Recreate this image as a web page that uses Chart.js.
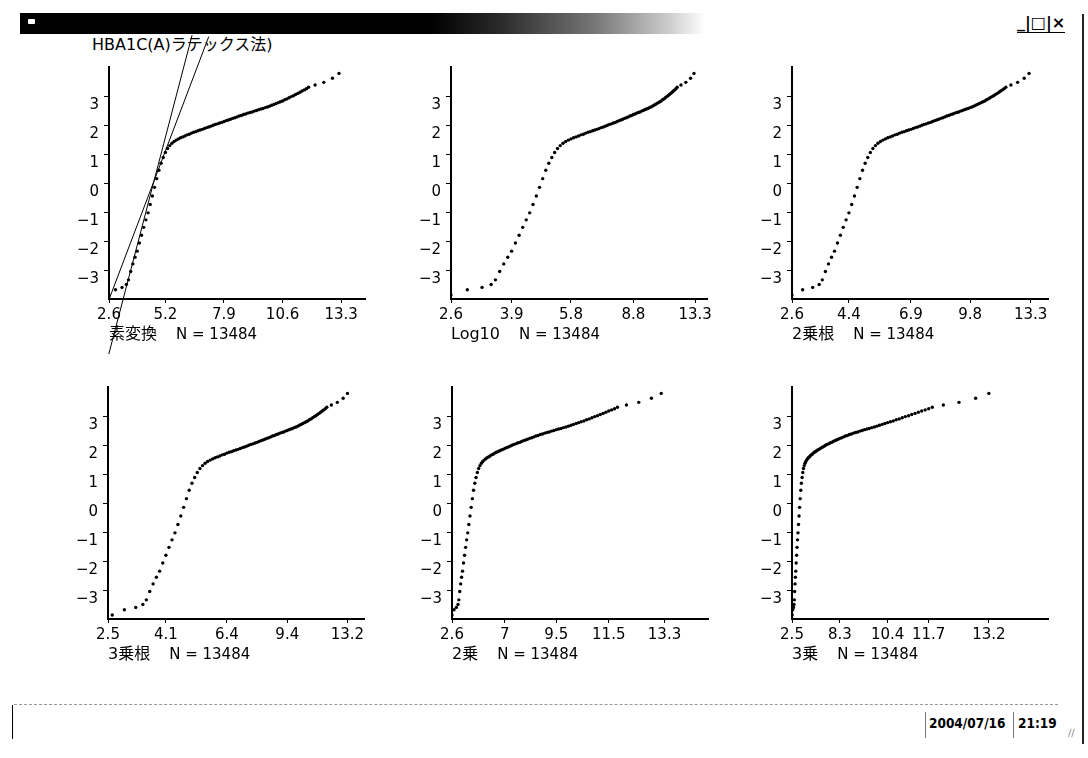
<!DOCTYPE html>
<html>
<head>
<meta charset="utf-8">
<script src="https://cdn.jsdelivr.net/npm/chart.js@4/dist/chart.umd.min.js"></script>
<style>
  body { margin: 0; width: 1088px; height: 758px; overflow: hidden; position: relative; background: #fff; color: #000;
         font-family: "DejaVu Sans", "Noto Sans CJK JP", sans-serif; }
  .abs { position: absolute; }
  #titlebar { left: 20px; top: 13px; width: 685px; height: 21px;
              background: linear-gradient(to right, #000 0%, #000 60%, #2a2a2a 70%, #777 84%, #cfcfcf 95%, #fff 100%); }
  #icon { left: 28px; top: 19px; width: 7px; height: 5px; background: #fff; border-radius: 1px; }
  #buttons { left: 1017px; top: 14px; font: bold 16px "DejaVu Sans"; border-bottom: 1px solid #000; line-height: 18px; }
  #rborder { left: 1082px; top: 14px; width: 2px; height: 730px; background: #222; }
  #title { left: 92px; top: 37px; font-size: 16px; line-height: 16px; white-space: nowrap; }
  .cap { font-size: 15px; line-height: 16px; white-space: nowrap; }
  .cap .nm { font-size: 16px; margin-right: 19px; }
  #status { left: 14px; top: 704px; width: 1044px; height: 0; border-top: 1px dashed #999; }
  #sleft { left: 12px; top: 705px; width: 1px; height: 34px; background: #000; }
  .sep { top: 712px; width: 1px; height: 26px; background: #777; }
  .stat { top: 716px; font: bold 13.5px "DejaVu Sans Condensed", "DejaVu Sans"; line-height: 14px; }
  #grip { left: 1068px; top: 727px; font-size: 10px; color: #888; }
</style>
</head>
<body>
<div id="titlebar" class="abs"></div>
<div id="icon" class="abs"></div>
<div id="buttons" class="abs">_|□|×</div>
<div id="rborder" class="abs"></div>
<div id="title" class="abs">HBA1C(A)ラテックス法)</div>
<div id="status" class="abs"></div>
<div id="sleft" class="abs"></div>
<div class="abs sep" style="left:925px"></div>
<div class="abs stat" style="left:929px">2004/07/16</div>
<div class="abs sep" style="left:1013px"></div>
<div class="abs stat" style="left:1018px">21:19</div>
<div id="grip" class="abs">∕∕</div>

<script>
// HbA1c values (%) and the normal score at each distinct value
const hba1c = [2.6, 2.9, 3.2, 3.4, 3.5, 3.6, 3.7, 3.8, 3.9, 4.0,
  4.1, 4.2, 4.3, 4.4, 4.5, 4.6, 4.7, 4.8, 4.9, 5.0,
  5.1, 5.2, 5.3, 5.4, 5.5, 5.6, 5.7, 5.8, 5.9, 6.0,
  6.1, 6.2, 6.3, 6.4, 6.5, 6.6, 6.7, 6.8, 6.9, 7.0,
  7.1, 7.2, 7.3, 7.4, 7.5, 7.6, 7.7, 7.8, 7.9, 8.0,
  8.1, 8.2, 8.3, 8.4, 8.5, 8.6, 8.7, 8.8, 8.9, 9.0,
  9.1, 9.2, 9.3, 9.4, 9.5, 9.6, 9.7, 9.8, 9.9, 10.0,
  10.1, 10.2, 10.3, 10.4, 10.5, 10.6, 10.7, 10.8, 10.9, 11.0,
  11.1, 11.2, 11.3, 11.4, 11.5, 11.6, 11.7, 11.8, 12.1, 12.5, 12.9, 13.2];
const zScore = [-3.86, -3.68, -3.60, -3.50, -3.34, -3.05, -2.79, -2.56, -2.35, -2.07,
  -1.80, -1.53, -1.27, -1.03, -0.74, -0.45, -0.15, 0.15, 0.44, 0.68,
  0.88, 1.05, 1.19, 1.29, 1.37, 1.43, 1.48, 1.52, 1.56, 1.59,
  1.62, 1.66, 1.68, 1.72, 1.75, 1.77, 1.80, 1.83, 1.85, 1.88,
  1.91, 1.93, 1.96, 1.99, 2.02, 2.04, 2.07, 2.09, 2.12, 2.15,
  2.17, 2.20, 2.23, 2.25, 2.28, 2.31, 2.33, 2.36, 2.38, 2.41,
  2.43, 2.45, 2.48, 2.50, 2.53, 2.55, 2.57, 2.60, 2.62, 2.65,
  2.68, 2.71, 2.74, 2.77, 2.80, 2.83, 2.87, 2.90, 2.94, 2.98,
  3.01, 3.05, 3.09, 3.13, 3.17, 3.21, 3.25, 3.30, 3.38, 3.47, 3.61, 3.78];

// reference lines on the untransformed plot: [HbA1c, z] end points
const refLineA = [[2.59, -5.9], [6.43, 5.1]];
const refLineB = [[2.61, -4.0], [7.2, 5.05]];

const yTickValues = [3, 2, 1, 0, -1, -2, -3];
const yTickLabels = ['3', '2', '1', '0', '−1', '−2', '−3'];

const panelNames = ['素変換', 'Log10', '2乗根', '3乗根', '2乗', '3乗'];
const ticksRaw = ['2.6', '5.2', '7.9', '10.6', '13.3'];
const ticksLog = ['2.6', '3.9', '5.8', '8.8', '13.3'];
const ticksSqrt = ['2.6', '4.4', '6.9', '9.8', '13.3'];
const ticksCbrt = ['2.5', '4.1', '6.4', '9.4', '13.2'];
const ticksSquare = ['2.6', '7', '9.5', '11.5', '13.3'];
const ticksCube = ['2.5', '8.3', '10.4', '11.7', '13.2'];
const axisEnd = [14.4, 14.4, 14.4, 14.4, 14.55, 14.4];
const sampleCount = 13484;

const transforms = [
  v => v,
  v => Math.log10(v),
  v => Math.sqrt(v),
  v => Math.cbrt(v),
  v => v * v,
  v => v * v * v
];
const tickSets = [ticksRaw, ticksLog, ticksSqrt, ticksCbrt, ticksSquare, ticksCube];

// plot area corners on the page
const plotLeft = [109, 451, 792, 108, 452, 792];
const plotTop = [67, 67, 67, 387, 387, 387];
const PW = 256, PH = 232;
const PAD_L = 45, PAD_T = 40, AX_H = 36, PAD_B = 30, PAD_R = 25;

const tickFont = { family: 'DejaVu Sans', size: 15 };

function makePanel(i) {
  const f = transforms[i], labels = tickSets[i];
  const cv = document.createElement('canvas');
  cv.width = PAD_L + PW + PAD_R;
  cv.height = PAD_T + PH + AX_H + PAD_B;
  cv.style.position = 'absolute';
  cv.style.left = (plotLeft[i] - PAD_L) + 'px';
  cv.style.top = (plotTop[i] - PAD_T) + 'px';
  document.body.appendChild(cv);

  var datasets = [{
    type: 'scatter',
    data: hba1c.map(function(v, k) { return { x: f(v), y: zScore[k] }; }),
    pointRadius: 1.7,
    pointBackgroundColor: '#000',
    pointBorderWidth: 0,
    showLine: false
  }];
  if (i === 0) {
    [refLineA, refLineB].forEach(function(l) {
      datasets.push({
        type: 'line',
        data: l.map(function(p) { return { x: f(p[0]), y: p[1] }; }),
        borderColor: '#000',
        borderWidth: 1,
        pointRadius: 0,
        fill: false,
        clip: false
      });
    });
  }

  new Chart(cv, {
    type: 'scatter',
    data: { datasets: datasets },
    options: {
      responsive: false,
      animation: false,
      devicePixelRatio: 1,
      events: [],
      layout: { padding: { top: PAD_T, right: PAD_R, bottom: PAD_B, left: 0 } },
      plugins: { legend: { display: false }, tooltip: { enabled: false } },
      scales: {
        x: {
          type: 'linear',
          min: f(parseFloat(labels[0])),
          max: f(axisEnd[i]),
          afterBuildTicks: function(s) { s.ticks = labels.map(function(t) { return { value: f(parseFloat(t)) }; }); },
          afterFit: function(s) { s.height = AX_H; },
          ticks: { autoSkip: false, maxRotation: 0, padding: 3, color: '#000', font: tickFont,
                   callback: function(v, k) { return labels[k]; } },
          grid: { drawOnChartArea: false, drawTicks: true, tickLength: 4, color: '#000' },
          border: { color: '#000', width: 2 }
        },
        y: {
          type: 'linear',
          min: -4,
          max: 4,
          afterBuildTicks: function(s) { s.ticks = yTickValues.map(function(v) { return { value: v }; }); },
          afterFit: function(s) { s.width = PAD_L; },
          ticks: { autoSkip: false, padding: 5, labelOffset: 9, color: '#000', font: tickFont,
                   callback: function(v, k) { return yTickLabels[k]; } },
          grid: { drawOnChartArea: false, drawTicks: true, tickLength: 5, color: '#000' },
          border: { color: '#000', width: 2 }
        }
      }
    }
  });

  var cap = document.createElement('div');
  cap.className = 'abs cap';
  cap.style.left = plotLeft[i] + 'px';
  cap.style.top = (plotTop[i] + PH + 27) + 'px';
  cap.innerHTML = '<span class="nm">' + panelNames[i] + '</span>N = ' + sampleCount;
  document.body.appendChild(cap);
}

for (var i = 0; i < 6; i++) makePanel(i);
</script>
</body>
</html>
